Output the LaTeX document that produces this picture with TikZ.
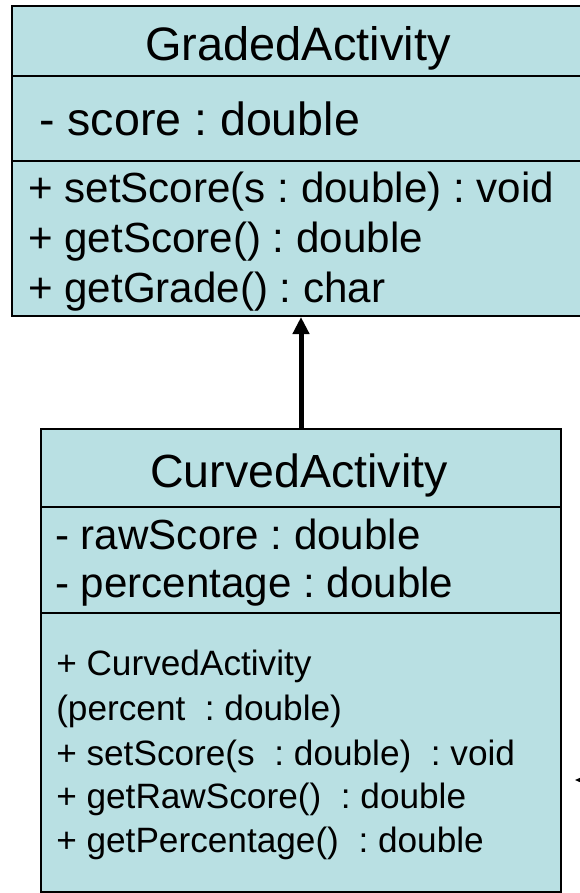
\documentclass[tikz,border=0pt]{standalone}
\usepackage{fontspec}
\setmainfont{Liberation Sans}
\usetikzlibrary{arrows.meta}
\definecolor{umlfill}{RGB}{185,224,227}
\frenchspacing

\begin{document}
\begin{tikzpicture}[x=0.75pt, y=-0.75pt,
    classbox/.style={draw, line width=1.5pt, fill=umlfill, anchor=north west, inner sep=0pt},
    member/.style={anchor=base west, inner sep=0pt},
    heading/.style={anchor=base, inner sep=0pt}]
    \useasboundingbox (0,0) rectangle (580,893);

    % superclass
    \node[classbox, minimum width=433.5pt, minimum height=232.5pt] (graded) at (11,5) {};
    \draw[line width=1.5pt] (graded.west |- 0,76) -- (graded.east |- 0,76);
    \draw[line width=1.5pt] (graded.west |- 0,161) -- (graded.east |- 0,161);
    \node[heading, font=\fontsize{35.2}{40}\selectfont] (gradedname) at (298,60) {GradedActivity};
    \node[member, font=\fontsize{34.9}{40}\selectfont] (score) at (39,135) {- score : double};
    \foreach \txt [count=\i] in {{+ setScore(s : double) : void}, {+ getScore() : double}, {+ getGrade() : char}}
    {
        \node[member, font=\fontsize{31.6}{36}\selectfont] (gradedop\i) at (28,152+50*\i) {\txt};
    }

    % subclass
    \node[classbox, minimum width=390pt, minimum height=347.25pt] (curved) at (40,428) {};
    \draw[line width=1.5pt] (curved.west |- 0,507) -- (curved.east |- 0,507);
    \draw[line width=1.5pt] (curved.west |- 0,613) -- (curved.east |- 0,613);
    \node[heading, font=\fontsize{34.9}{40}\selectfont] (curvedname) at (299,487) {CurvedActivity};
    \node[member, font=\fontsize{31.6}{36}\selectfont] (rawscore) at (55,549) {- rawScore : double};
    \node[member, font=\fontsize{31.6}{36}\selectfont] (percentage) at (55,597) {- percentage : double};
    \foreach \txt/\yy [count=\i] in {{+ CurvedActivity}/675, {(percent\ \ : double)}/720, {+ setScore(s\ \ : double)\ \ : void}/765, {+ getRawScore()\ \ : double}/808, {+ getPercentage()\ \ : double}/852}
    {
        \node[member, font=\fontsize{26.4}{30}\selectfont] (curvedop\i) at (56,\yy) {\txt};
    }

    % generalization
    \draw[line width=3.75pt, -{Triangle[length=12.75pt, width=12pt]}] (curved.north) -- (graded.south);

    % arrow entering from the right
    \coordinate (offpage) at (600,780);
    \coordinate (tipend) at (575,780);
    \draw[line width=1pt, -{Triangle[length=6pt, width=5pt]}] (offpage) -- (tipend);
\end{tikzpicture}
\end{document}
